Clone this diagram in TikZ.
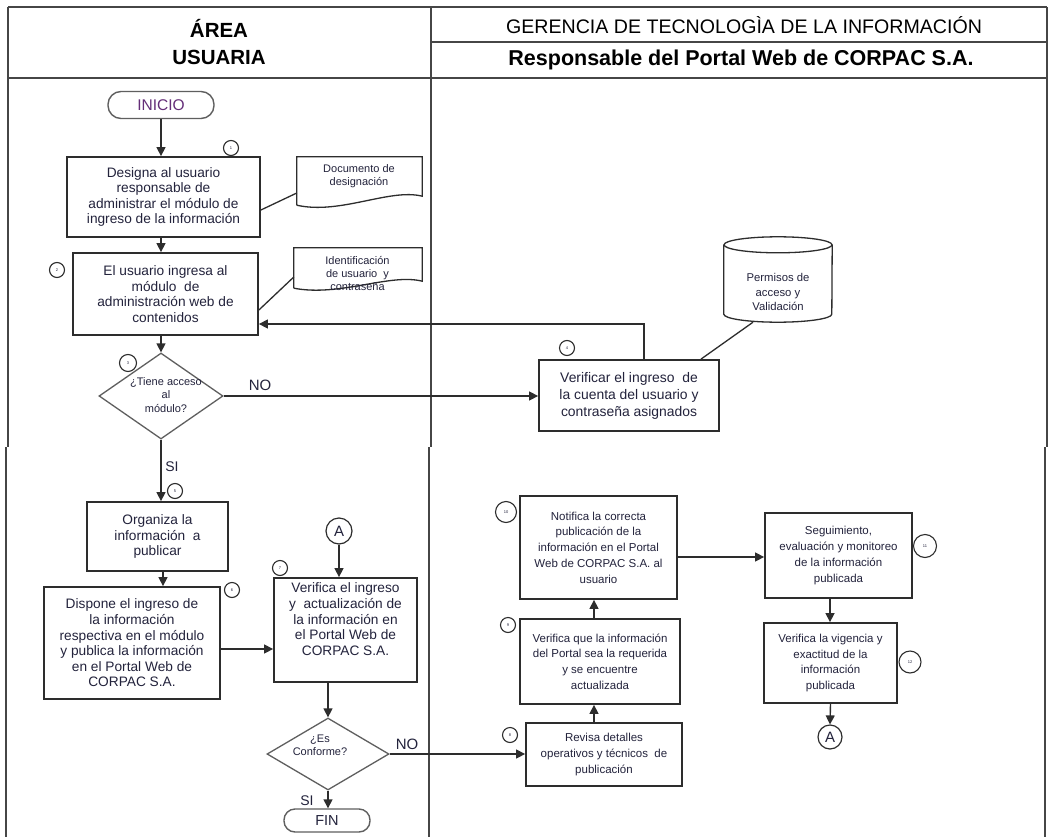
\documentclass[tikz,border=0pt]{standalone}
\usepackage{fontspec}
\setmainfont{Liberation Sans}
\usetikzlibrary{shapes.geometric,arrows.meta,calc}
\definecolor{linec}{RGB}{45,45,45}
\definecolor{framec}{RGB}{70,70,70}
\definecolor{grayc}{RGB}{95,95,95}
\definecolor{txtc}{RGB}{35,35,60}
\definecolor{inic}{RGB}{100,45,120}
\begin{document}
\begin{tikzpicture}[x=1pt,y=-1pt,
 frame/.style={draw=framec,line width=1.6pt},
 ln/.style={draw=linec,line width=1.3pt},
 arr/.style={draw=linec,line width=1.4pt,-{Triangle[length=9pt,width=9pt]}},
 box/.style={draw=linec,line width=1.8pt,rectangle,align=center,inner sep=0pt,text=txtc,font=\fontsize{13.7}{15.6}\selectfont},
 rbox/.style={box,font=\fontsize{11.5}{15.7}\selectfont},
 dec/.style={diamond,draw=grayc,line width=1.3pt,inner sep=0pt},
 small/.style={align=center,inner sep=0pt,text=txtc,font=\fontsize{11}{13.3}\selectfont},
 num/.style={circle,draw=linec,line width=1.1pt,inner sep=0pt,minimum size=15pt,text=txtc,font=\fontsize{4}{4}\selectfont},
 term/.style={rectangle,draw=grayc,line width=1.4pt,inner sep=0pt},
 conn/.style={circle,draw=linec,line width=1.2pt,inner sep=0pt,minimum size=26pt,text=txtc,font=\fontsize{15}{15}\selectfont},
 lbl/.style={inner sep=0pt,text=txtc,font=\fontsize{15}{15}\selectfont},
 hdr/.style={align=center,inner sep=0pt,text=black},
]
\useasboundingbox (0,0) rectangle (1048,837);
\fill[white] (0,0) rectangle (1048,837);

% frame
\draw[frame] (8,7) -- (1047,7);
\draw[frame] (8,78) -- (1047,78);
\draw[frame] (431,42) -- (1047,42);
\draw[frame] (8,7) -- (8,447);
\draw[frame] (431,7) -- (431,447);
\draw[frame] (1047,7) -- (1047,447);
\draw[frame] (6,447) -- (6,837);
\draw[frame] (429,447) -- (429,837);
\draw[frame] (1045,447) -- (1045,837);

% headers
\node[hdr,font=\bfseries\fontsize{20.5}{27}\selectfont] (hA) at (219,42) {ÁREA\\USUARIA};
\node[hdr,font=\fontsize{19.6}{20}\selectfont] (hG) at (744,25) {GERENCIA DE TECNOLOGÌA DE LA INFORMACIÓN};
\node[hdr,font=\bfseries\fontsize{21.5}{22}\selectfont] (hR) at (741,60) {Responsable del Portal Web de CORPAC S.A.};

% top left
\node[term,rounded corners=13pt,minimum width=106pt,minimum height=27pt,text=inic,font=\fontsize{15.5}{16}\selectfont] (ini) at (161,105) {INICIO};
\node[box,minimum width=193pt,minimum height=80pt] (b1) at (163.5,197) {Designa al usuario\\responsable de\\administrar el módulo de\\ingreso de la información};
\node[box,minimum width=185pt,minimum height=82pt] (b2) at (165.5,294) {El usuario ingresa al\\módulo\ \ de\\administración web de\\contenidos};
\node[dec,minimum width=124pt,minimum height=86pt] (d1) at (161,396) {};
\node[small] (d1t) at (166,395) {¿Tiene acceso\\al\\módulo?};

% documents
\node[draw=none,minimum width=125pt,minimum height=48pt,inner sep=0pt] (doc1) at (359.5,181) {};
\draw[ln] (doc1.south west) -- (doc1.north west) -- (doc1.north east) -- ([yshift=9pt]doc1.south east)
  .. controls (390,188) and (340,215) .. (doc1.south west);
\node[small] (doc1t) at (359,176.5) {Documento de\\designación};
\node[draw=none,minimum width=128pt,minimum height=40pt,inner sep=0pt] (doc2) at (358,268) {};
\draw[ln] (doc2.south west) -- (doc2.north west) -- (doc2.north east) -- ([yshift=7pt]doc2.south east)
  .. controls (390,273) and (340,297) .. (doc2.south west);
\node[small] (doc2t) at (357.5,273.5) {Identificación\\de usuario\ \ y\\contraseña};

% top right
\node[box,minimum width=180pt,minimum height=71pt,font=\fontsize{13.9}{17}\selectfont] (b4) at (629,395.5) {Verificar el ingreso\ \ de\\la cuenta del usuario y\\contraseña asignados};
\node[draw=none,minimum width=108pt,minimum height=85pt,inner sep=0pt] (cyl) at (778,279.5) {};
\draw[ln] ([yshift=-8pt]cyl.north west) -- ([yshift=8pt]cyl.south west)
  arc[start angle=180,end angle=360,x radius=54pt,y radius=8pt] -- ([yshift=-8pt]cyl.north east);
\draw[ln] ([yshift=-8pt]cyl.north) ellipse [x radius=54pt,y radius=8pt];
\node[small,font=\fontsize{11.3}{14.5}\selectfont] (cylt) at (778,292) {Permisos de\\acceso y\\Validación};

% bottom left
\node[box,minimum width=141pt,minimum height=69pt] (b5) at (157.5,536.5) {Organiza la\\información\ \ a\\publicar};
\node[box,minimum width=176pt,minimum height=112pt] (b6) at (132,643) {Dispone el ingreso de\\la información\\respectiva en el módulo\\y publica la información\\en el Portal Web de\\CORPAC S.A.};
\node[box,minimum width=143pt,minimum height=104pt] (b7) at (345.5,630) {Verifica el ingreso\\y\ \ actualización de\\la información en\\el Portal Web de\\CORPAC S.A.\\[6pt]};
\node[conn] (A1) at (339,531) {A};
\node[dec,minimum width=122pt,minimum height=72pt] (d2) at (328,754) {};
\node[small] (d2t) at (320,745) {¿Es\\Conforme?};
\node[term,rounded corners=11pt,minimum width=86pt,minimum height=23pt,text=txtc,font=\fontsize{14.5}{15}\selectfont] (fin) at (327,820.5) {FIN};

% bottom right
\node[rbox,minimum width=156pt,minimum height=63pt] (b8) at (604,754.5) {Revisa detalles\\operativos y técnicos\ \ de\\publicación};
\node[rbox,minimum width=160pt,minimum height=85pt] (b9) at (600,661.5) {Verifica que la información\\del Portal sea la requerida\\y se encuentre\\actualizada};
\node[rbox,minimum width=157pt,minimum height=103pt] (b10) at (598.5,547.5) {Notifica la correcta\\publicación de la\\información en el Portal\\Web de CORPAC S.A. al\\usuario};
\node[rbox,minimum width=147pt,minimum height=85pt] (b11) at (838.5,555.5) {Seguimiento,\\evaluación y monitoreo\\de la información\\publicada};
\node[rbox,minimum width=133pt,minimum height=80pt] (b12) at (830.5,663) {Verifica la vigencia y\\exactitud de la\\información\\publicada};
\node[conn,minimum size=24pt] (A2) at (830,737) {A};

% numbered circles
\node[num] (n1) at (231,148) {1};
\node[num] (n2) at (57,270) {2};
\node[num,minimum size=17pt] (n3) at (128,363) {3};
\node[num] (n4) at (567,348) {4};
\node[num] (n5) at (175,491) {5};
\node[num] (n6) at (232,590) {6};
\node[num] (n7) at (280,568) {7};
\node[num] (n8) at (510,735) {8};
\node[num] (n9) at (508,625) {9};
\node[num,minimum size=21pt] (n10) at (506,512) {10};
\node[num,minimum size=23pt] (n11) at (925,546) {11};
\node[num,minimum size=22pt] (n12) at (910,662) {12};

% labels
\node[lbl] (no1) at (260,385) {NO};
\node[lbl,font=\fontsize{14}{14}\selectfont] (si1) at (172,467) {SI};
\node[lbl] (no2) at (407,744) {NO};
\node[lbl,font=\fontsize{14}{14}\selectfont] (si2) at (307,801) {SI};

% connectors
\draw[arr] (ini.south) -- (ini.south |- b1.north);
\draw[arr] (ini.south |- b1.south) -- (ini.south |- b2.north);
\draw[arr] (d1.north |- b2.south) -- (d1.north);
\draw[arr] (d1.east) -- (d1.east -| b4.west);
\draw[arr] ($(b4.north west)!0.583!(b4.north east)$) |- ([yshift=-30pt]b2.east);
\draw[ln] ([yshift=-13pt]b1.east) -- ([yshift=-12pt]doc1.west);
\draw[ln] ([yshift=-16pt]b2.east) -- ([yshift=-9pt]doc2.west);
\draw[ln] ([xshift=72pt]b4.north) -- ([xshift=-25pt]cyl.south);
\draw[arr] (d1.south) -- (d1.south |- b5.north);
\draw[arr] ([xshift=5.5pt]b5.south) -- ([xshift=5.5pt]b5.south |- b6.north);
\draw[arr] ([yshift=-6pt]b6.east) -- ([yshift=-6pt]b6.east -| b7.west);
\draw[arr] (A1.south) -- (A1.south |- b7.north);
\draw[arr] (d2.north |- b7.south) -- (d2.north);
\draw[arr] (d2.east) -- (d2.east -| b8.west);
\draw[arr] (d2.south) -- (d2.south |- fin.north);
\draw[arr] ([xshift=-10pt]b8.north) -- ([xshift=-10pt]b8.north |- b9.south);
\draw[arr] ([xshift=-6pt]b9.north) -- ([xshift=-6pt]b9.north |- b10.south);
\draw[arr] ([yshift=-9.5pt]b10.east) -- ([yshift=-9.5pt]b10.east -| b11.west);
\draw[arr] ([xshift=-8.5pt]b11.south) -- ([xshift=-8.5pt]b11.south |- b12.north);
\draw[arr] (b12.south) -- (A2.north);
\end{tikzpicture}
\end{document}
